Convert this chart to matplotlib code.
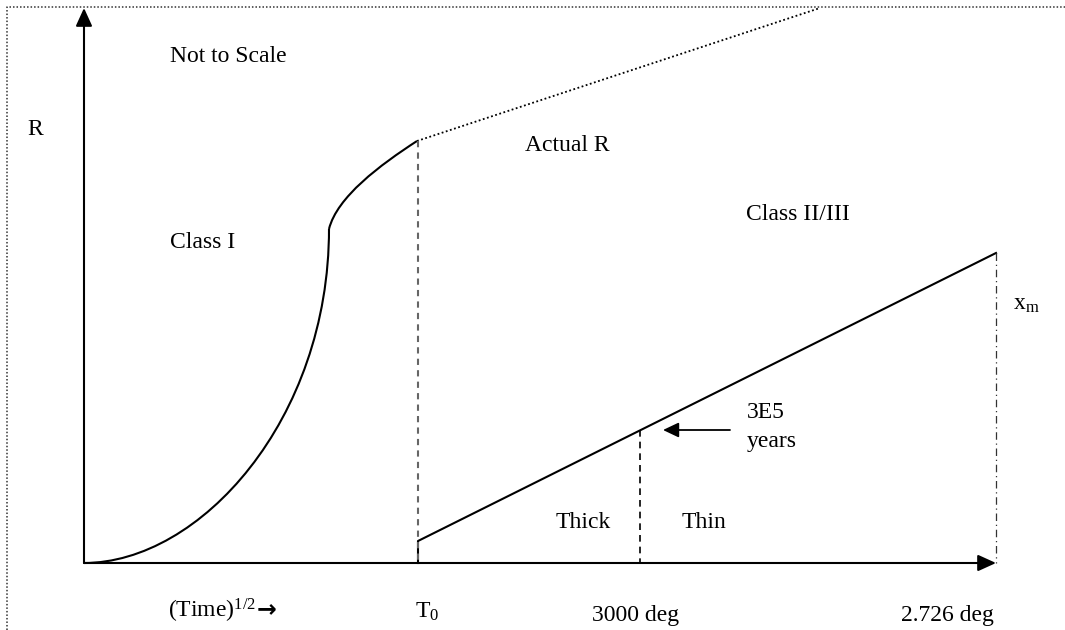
import matplotlib.pyplot as plt
from matplotlib.path import Path
from matplotlib.patches import PathPatch

plt.rcParams['font.family'] = ['Liberation Serif', 'DejaVu Serif']
plt.rcParams['mathtext.fontset'] = 'custom'
plt.rcParams['mathtext.rm'] = 'Liberation Serif'
plt.rcParams['mathtext.it'] = 'Liberation Serif:italic'

# schematic coordinates (diagram units, y grows downwards like the sketch)
origin = (84, 563)
x_axis_end = 996
y_axis_end = 8

# Class I curve as two cubic Bezier pieces (start, ctrl, ctrl, end)
class1_low = [(84, 563), (200, 563), (329, 420), (329, 229)]
class1_high = [(329, 229), (337, 197), (380, 165), (417, 141)]

# Actual R (dotted) continuation
actual_x = [417, 820]
actual_y = [141, 8]

# Class II/III line
class2_x = [418, 418, 996]
class2_y = [563, 541, 253]

# vertical markers
t0_x, t0_top = 418, 141
thick_x, thick_top = 640, 430
xm_x, xm_top = 996, 253

# border (clipped on right and bottom)
border_x = [7, 7, 1065]
border_y = [630, 7, 7]

fig = plt.figure(figsize=(10.65, 6.3), dpi=100)
ax = fig.add_axes([0, 0, 1, 1])
ax.set_xlim(0, 1065)
ax.set_ylim(630, 0)
ax.axis('off')

ax.plot(border_x, border_y, color='#333333', lw=1.1, ls=(0, (1, 1.3)))

# axes with arrow heads
for tip in [(origin[0], y_axis_end), (x_axis_end, origin[1])]:
    ax.annotate('', xy=tip, xytext=origin,
                arrowprops=dict(arrowstyle='-|>,head_length=1.1,head_width=0.5',
                                lw=1.5, color='black', shrinkA=0, shrinkB=0,
                                mutation_scale=10))

codes = [Path.MOVETO, Path.CURVE4, Path.CURVE4, Path.CURVE4]
for pts in [class1_low, class1_high]:
    ax.add_patch(PathPatch(Path(pts, codes), facecolor='none', edgecolor='black', lw=1.5))

ax.plot(actual_x, actual_y, color='black', lw=1.3, ls=(0, (1, 1.4)))
ax.plot(class2_x, class2_y, color='black', lw=1.5)

ax.plot([t0_x, t0_x], [t0_top, origin[1]], color='#666666', lw=1.5, ls=(0, (3, 2.5)))
ax.plot([thick_x, thick_x], [thick_top, origin[1]], color='black', lw=1.2, ls=(0, (4, 3)))
ax.plot([xm_x, xm_x], [xm_top, origin[1]], color='#333333', lw=0.9,
        ls=(0, (6, 3, 1, 3)))

# 3E5 years pointer
ax.annotate('', xy=(663, 430), xytext=(730, 430),
            arrowprops=dict(arrowstyle='-|>,head_length=0.95,head_width=0.45',
                            lw=1.3, color='black', shrinkA=0, shrinkB=0,
                            mutation_scale=10))

fs = 17
texts = [
    (170, 62, 'Not to Scale'),
    (27, 135, 'R'),
    (525, 151, 'Actual R'),
    (170, 248, 'Class I'),
    (746, 220, 'Class II/III'),
    (747, 418, '3E5'),
    (747, 447, 'years'),
    (556, 528, 'Thick'),
    (682, 528, 'Thin'),
    (1013, 310, r'x$_\mathrm{m}$'),
    (168, 618, r'(Time)$^{\mathrm{1/2}}$'),
    (415, 618, r'T$_\mathrm{0}$'),
    (592, 621, '3000 deg'),
    (901, 621, '2.726 deg'),
]
for x, y, s in texts:
    ax.text(x, y, s, fontsize=fs, ha='left', va='baseline')
ax.text(257, 616, '→', fontsize=fs, fontweight='bold', family='DejaVu Sans',
        ha='left', va='baseline')

fig.savefig('out.png', dpi=100)
